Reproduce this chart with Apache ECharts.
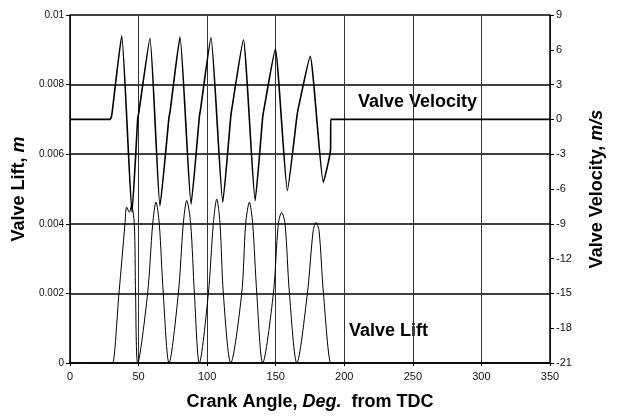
<!DOCTYPE html>
<html>
<head>
<meta charset="utf-8">
<script src="https://cdn.jsdelivr.net/npm/echarts@6/dist/echarts.min.js"></script>
<style>
  html, body { margin: 0; padding: 0; background: #fff; }
  #chart { width: 618px; height: 416px; }
</style>
</head>
<body>
<div id="chart"></div>
<script>
// valve lift (m) against crank angle
var liftAngle = [0, 30.5, 31.1, 35.7, 40.1, 41.3, 43.3, 44.8, 46.9, 47.8, 49.4,
  56.6, 60.3, 62.7, 65.1, 68, 72.2,
  79, 82.6, 85.1, 88, 90.7, 94.3,
  100.9, 104.5, 107, 109.4, 111.8, 117.2,
  125.2, 128.1, 130.8, 133.2, 136.2, 140.5,
  148.3, 151.9, 154.3, 156.8, 160, 165.4,
  173.1, 177.3, 179.4, 181.6, 184.8, 190.1, 190.6, 350];
var liftValue = [0, 0, 0, 0.002, 0.004, 0.00448, 0.00433, 0.00452, 0.004, 0.002, 0,
  0.002, 0.004, 0.00462, 0.004, 0.002, 0,
  0.002, 0.004, 0.00467, 0.004, 0.002, 0,
  0.002, 0.004, 0.00471, 0.004, 0.002, 0,
  0.002, 0.004, 0.00462, 0.004, 0.002, 0,
  0.002, 0.004, 0.00433, 0.004, 0.002, 0,
  0.002, 0.0038, 0.00404, 0.0038, 0.002, 0, 0, 0];

// valve velocity (m/s) against crank angle
var velAngle = [0, 29.2, 30.5, 37.7, 45.2, 49.4, 50.2, 58.3, 65.6, 72.2, 73, 80.2,
  88.3, 94.3, 95.1, 102.8, 111.4, 117.2, 118, 126.4, 135, 140.5, 141.3, 149.7,
  158.5, 165.4, 166.2, 175.1, 184.7, 190, 190.1, 350];
var velValue = [0, 0, 0.4, 7.2, -8.0, 0.1, 0.6, 7.0, -7.45, 0.2, 0.7, 7.1,
  -7.3, 0.2, 0.8, 7.05, -7.14, 0.2, 0.9, 6.86, -7.0, 0.2, 0.8, 6.06,
  -6.14, 0.2, 0.8, 5.43, -5.43, -2.57, 0, 0];

var xTicks = [0, 50, 100, 150, 200, 250, 300, 350];

function pairs(xs, ys) {
  return xs.map(function (x, i) { return [x, ys[i]]; });
}

var font = 'Liberation Sans, Arial, sans-serif';
var titleRich = {
  b: { fontFamily: font, fontWeight: 'bold', fontSize: 18, color: '#000' },
  i: { fontFamily: font, fontWeight: 'bold', fontStyle: 'italic', fontSize: 18, color: '#000' }
};
var chart = echarts.init(document.getElementById('chart'));

chart.setOption({
  animation: false,
  backgroundColor: '#fff',
  textStyle: { fontFamily: font },
  grid: { left: 70, right: 68, top: 15, bottom: 51 },
  xAxis: {
    type: 'value',
    min: xTicks[0], max: xTicks[xTicks.length - 1], interval: 50,
    axisLine: { lineStyle: { color: '#000', width: 1.5 } },
    axisTick: { length: 3, lineStyle: { color: '#000' } },
    axisLabel: { color: '#111', fontSize: 11, margin: 8 },
    splitLine: { show: true, lineStyle: { color: '#333', width: 1 } },
    name: '{b|Crank Angle, }{i|Deg.}{b|  from TDC}',
    nameLocation: 'middle',
    nameGap: 30,
    nameTextStyle: { rich: titleRich }
  },
  yAxis: [{
    type: 'value',
    min: 0, max: 0.01, interval: 0.002,
    axisLine: { show: true, lineStyle: { color: '#000', width: 1.5 } },
    axisTick: { show: true, length: 4, lineStyle: { color: '#000' } },
    axisLabel: { color: '#111', fontSize: 10, margin: 6 },
    splitLine: { show: true, lineStyle: { color: '#000', width: 1.5 } },
    name: '{b|Valve Lift, }{i|m}',
    nameLocation: 'middle',
    nameRotate: 90,
    nameGap: 42,
    nameTextStyle: { rich: titleRich }
  }, {
    type: 'value',
    position: 'right',
    min: -21, max: 9, interval: 3,
    axisLine: { show: true, lineStyle: { color: '#000', width: 1.5 } },
    axisTick: { show: true, length: 4, lineStyle: { color: '#000' } },
    axisLabel: { color: '#111', fontSize: 11, margin: 6 },
    splitLine: { show: false },
    name: '{b|Valve Velocity, }{i|m/s}',
    nameLocation: 'middle',
    nameRotate: 90,
    nameGap: 38,
    nameTextStyle: { rich: titleRich }
  }],
  series: [{
    name: 'Valve Lift',
    type: 'line',
    yAxisIndex: 0,
    data: pairs(liftAngle, liftValue),
    showSymbol: false,
    smooth: 0.3,
    lineStyle: { color: '#000', width: 1 }
  }, {
    name: 'Valve Velocity',
    type: 'line',
    yAxisIndex: 1,
    data: pairs(velAngle, velValue),
    showSymbol: false,
    smooth: 0.15,
    lineStyle: { color: '#000', width: 1.6 }
  }],
  graphic: [{
    type: 'text', left: 358, top: 93,
    style: { text: 'Valve Velocity', font: 'bold 18px ' + font, fill: '#000' }
  }, {
    type: 'text', left: 349, top: 322,
    style: { text: 'Valve Lift', font: 'bold 18px ' + font, fill: '#000' }
  }]
});
</script>
</body>
</html>
